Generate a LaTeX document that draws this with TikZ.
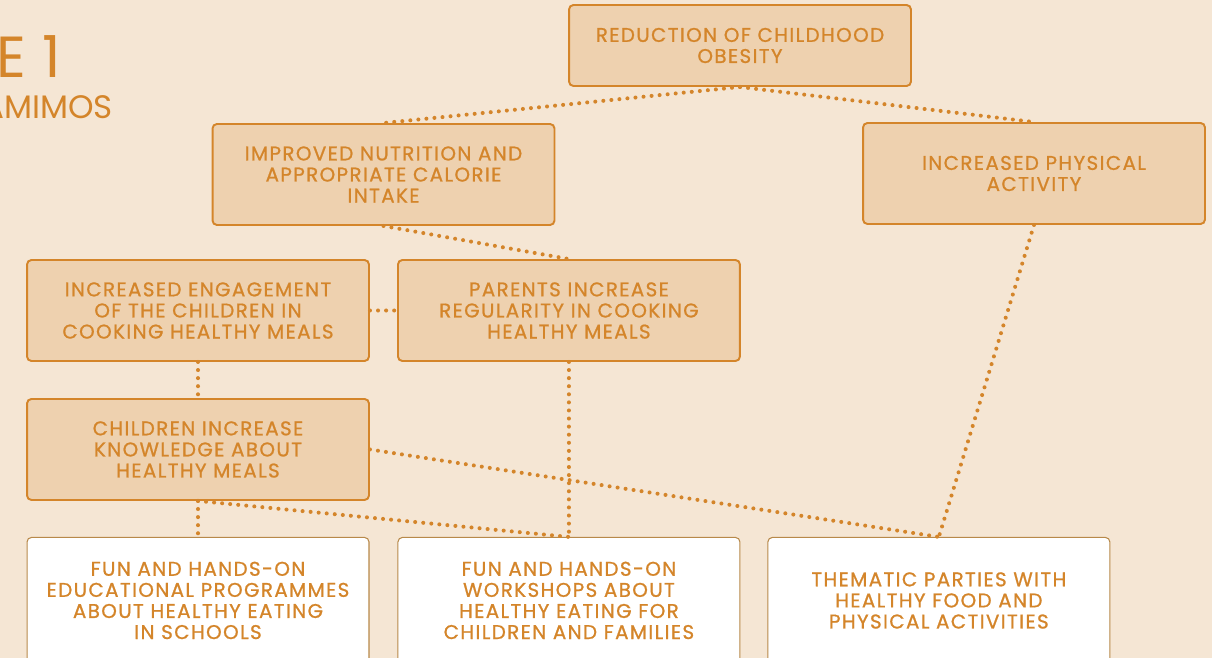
\documentclass[tikz,border=0pt]{standalone}
\usepackage{fontspec}
\setmainfont{Poppins}
\newfontfamily\boxfont{Poppins}[FakeBold=0.9,LetterSpace=7]
\usetikzlibrary{positioning}

\definecolor{bgcream}{HTML}{F5E6D4}
\definecolor{boxtan}{HTML}{EED1AF}
\definecolor{ochre}{HTML}{D4852A}
\definecolor{framebrown}{HTML}{B8894A}

\tikzset{
  outcome/.style={draw=ochre,fill=boxtan,line width=1.1pt,rounded corners=2.5pt,
    minimum width=6.84cm,minimum height=2.02cm,align=center,text=ochre,
    font=\boxfont\fontsize{11.3}{12}\selectfont},
  activity/.style={outcome,draw=framebrown,fill=white,line width=0.6pt,
    minimum height=2.52cm},
  link/.style={draw=ochre,line width=2.3pt,line cap=round,dash pattern=on 0pt off 4.6pt}
}

\begin{document}
\begin{tikzpicture}[x=0.02cm,y=-0.02cm,on grid,node distance=2.78cm]
   \useasboundingbox[fill=bgcream] (0,0) rectangle (1212,658);
   \node[anchor=base east,inner sep=0pt,text=ochre,font=\fontsize{33}{33}\selectfont] (fignum) at (61,78) {E 1};
   \node[anchor=base east,inner sep=0pt,text=ochre,font=\fontsize{18.5}{19}\selectfont] (figname) at (113,119) {AMIMOS};
   \node[outcome,minimum height=1.62cm] (obesity) at (740,45.5) {REDUCTION OF CHILDHOOD\\OBESITY};
   \node[outcome] (nutrition) at (383.5,174.5) {IMPROVED NUTRITION AND\\APPROPRIATE CALORIE\\INTAKE};
   \node[outcome] (physical) at (1034,173.5) {INCREASED PHYSICAL\\ACTIVITY};
   \node[outcome] (engage) at (198,310.5) {INCREASED ENGAGEMENT\\OF THE CHILDREN IN\\COOKING HEALTHY MEALS};
   \node[outcome] (parents) [right=7.42cm of engage] {PARENTS INCREASE\\REGULARITY IN COOKING\\HEALTHY MEALS};
   \node[outcome] (knowledge) [below=of engage] {CHILDREN INCREASE\\KNOWLEDGE ABOUT\\HEALTHY MEALS};
   \node[activity] (schools) [below=3.02cm of knowledge] {FUN AND HANDS-ON\\EDUCATIONAL PROGRAMMES\\ABOUT HEALTHY EATING\\IN SCHOOLS};
   \node[activity] (workshops) [right=7.42cm of schools] {FUN AND HANDS-ON\\WORKSHOPS ABOUT\\HEALTHY EATING FOR\\CHILDREN AND FAMILIES};
   \node[activity] (parties) [right=7.4cm of workshops] {THEMATIC PARTIES WITH\\HEALTHY FOOD AND\\PHYSICAL ACTIVITIES};
   \path[link]
        (obesity.south) edge (nutrition.north)
        (obesity.south) edge (physical.north)
        (nutrition.south) edge (parents.north)
        (engage.east) edge (parents.west)
        (engage.south) edge (knowledge.north)
        (parents.south) edge (workshops.north)
        (knowledge.east) edge (parties.north)
        (knowledge.south) edge (schools.north)
        (knowledge.south) edge (workshops.north)
        (physical.south) edge (parties.north)
        ;
\end{tikzpicture}
\end{document}
